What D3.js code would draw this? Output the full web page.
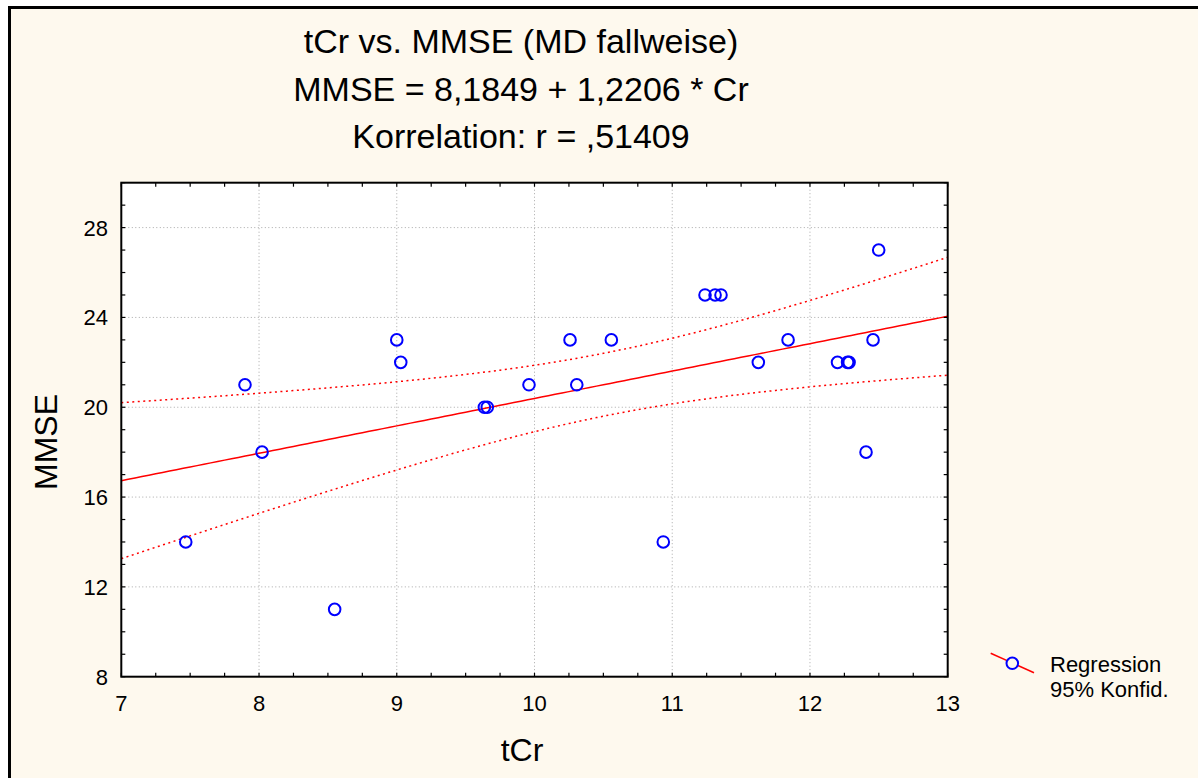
<!DOCTYPE html>
<html>
<head>
<meta charset="utf-8">
<script src="https://cdn.jsdelivr.net/npm/d3@7"></script>
<style>
  html, body { margin: 0; padding: 0; background: #ffffff; }
  svg { display: block; font-family: "Liberation Sans", Arial, Helvetica, sans-serif; }
</style>
</head>
<body>
<svg id="chart" width="1198" height="778"></svg>
<script>
// tCr values (x) and matching MMSE scores (y)
const tCr = [7.468, 7.898, 8.022, 8.549, 9.000, 9.029, 9.636, 9.657, 9.960, 10.258,
             10.307, 10.558, 10.935, 11.238, 11.311, 11.354, 11.625, 11.841, 12.200,
             12.273, 12.284, 12.407, 12.458, 12.499];
const mmse = [14, 21, 18, 11, 23, 22, 20, 20, 21, 23,
              21, 23, 14, 25, 25, 25, 22, 23, 22,
              22, 22, 18, 23, 27];

// fitted line MMSE = a + b * Cr
const intercept = 8.1849;
const slope = 1.2206;
const tCrit = 2.074; // t(0.975, n - 2)

const xTicks = [7, 8, 9, 10, 11, 12, 13];
const yTicks = [8, 12, 16, 20, 24, 28];
const titleLines = ["tCr vs. MMSE (MD fallweise)",
                    "MMSE = 8,1849 + 1,2206 * Cr",
                    "Korrelation: r = ,51409"];
const legendLabels = ["Regression", "95% Konfid."];

const svg = d3.select("#chart");
const W = 1198, H = 778;
const plot = { left: 121.3, right: 947.7, top: 182.7, bottom: 676.7 };

// page background and frame
svg.append("rect").attr("x", 9).attr("y", 7).attr("width", W - 9).attr("height", H - 7)
  .attr("fill", "#fef9ee");
svg.append("path").attr("d", `M9.5,${H} V7.5 H${W}`)
  .attr("fill", "none").attr("stroke", "#000").attr("stroke-width", 3);

const x = d3.scaleLinear().domain([7, 13]).range([plot.left, plot.right]);
const y = d3.scaleLinear().domain([8, 30]).range([plot.bottom, plot.top]);

// plot area
svg.append("rect").attr("x", plot.left).attr("y", plot.top)
  .attr("width", plot.right - plot.left).attr("height", plot.bottom - plot.top)
  .attr("fill", "#ffffff");

svg.append("clipPath").attr("id", "plotClip").append("rect")
  .attr("x", plot.left).attr("y", plot.top)
  .attr("width", plot.right - plot.left).attr("height", plot.bottom - plot.top);

// dotted grid
const grid = svg.append("g").attr("stroke", "#a8a8a8").attr("stroke-width", 1)
  .attr("stroke-dasharray", "1,2.5");
grid.selectAll("line.gx").data(xTicks.slice(1, -1)).join("line")
  .attr("x1", d => x(d)).attr("x2", d => x(d))
  .attr("y1", plot.top).attr("y2", plot.bottom);
grid.selectAll("line.gy").data(yTicks.slice(1)).join("line")
  .attr("y1", d => y(d)).attr("y2", d => y(d))
  .attr("x1", plot.left).attr("x2", plot.right);

// regression line and 95% confidence band
const n = tCr.length;
const meanX = d3.mean(tCr);
const sxx = d3.sum(tCr, v => (v - meanX) ** 2);
const sse = d3.sum(tCr, (v, i) => (mmse[i] - (intercept + slope * v)) ** 2);
const s = Math.sqrt(sse / (n - 2));
const halfWidth = v => tCrit * s * Math.sqrt(1 / n + (v - meanX) ** 2 / sxx);
const xs = d3.range(7, 13.0001, 0.05);

const fitG = svg.append("g").attr("clip-path", "url(#plotClip)");
const lineGen = fn => d3.line().x(v => x(v)).y(v => y(fn(v)));
fitG.append("path").datum(xs)
  .attr("d", lineGen(v => intercept + slope * v))
  .attr("fill", "none").attr("stroke", "#ff0000").attr("stroke-width", 1.5);
[1, -1].forEach(sign => {
  fitG.append("path").datum(xs)
    .attr("d", lineGen(v => intercept + slope * v + sign * halfWidth(v)))
    .attr("fill", "none").attr("stroke", "#ff0000").attr("stroke-width", 1.5)
    .attr("stroke-dasharray", "2,3.5");
});

// data points
svg.append("g").selectAll("circle").data(tCr).join("circle")
  .attr("cx", d => x(d)).attr("cy", (d, i) => y(mmse[i]))
  .attr("r", 5.8).attr("fill", "none").attr("stroke", "#0000ff").attr("stroke-width", 2);

// inward ticks on all four sides
const xMinor = d3.range(7, 13.001, 0.25);
const yMinor = d3.range(8, 30.001, 1);
const tickG = svg.append("g").attr("stroke", "#000").attr("stroke-width", 1.2);
const tl = 4;
tickG.selectAll("line.xb").data(xMinor).join("line")
  .attr("x1", d => x(d)).attr("x2", d => x(d))
  .attr("y1", plot.bottom).attr("y2", plot.bottom - tl);
tickG.selectAll("line.xt").data(xMinor).join("line")
  .attr("x1", d => x(d)).attr("x2", d => x(d))
  .attr("y1", plot.top).attr("y2", plot.top + tl);
tickG.selectAll("line.yl").data(yMinor).join("line")
  .attr("y1", d => y(d)).attr("y2", d => y(d))
  .attr("x1", plot.left).attr("x2", plot.left + tl);
tickG.selectAll("line.yr").data(yMinor).join("line")
  .attr("y1", d => y(d)).attr("y2", d => y(d))
  .attr("x1", plot.right).attr("x2", plot.right - tl);

// plot border
svg.append("rect").attr("x", plot.left).attr("y", plot.top)
  .attr("width", plot.right - plot.left).attr("height", plot.bottom - plot.top)
  .attr("fill", "none").attr("stroke", "#000").attr("stroke-width", 2);

// tick labels
svg.append("g").selectAll("text").data(xTicks).join("text")
  .attr("x", d => x(d)).attr("y", 711)
  .attr("text-anchor", "middle").attr("font-size", 22).attr("fill", "#000")
  .text(d => d);
svg.append("g").selectAll("text").data(yTicks).join("text")
  .attr("x", 108).attr("y", d => y(d) + 8)
  .attr("text-anchor", "end").attr("font-size", 22).attr("fill", "#000")
  .text(d => d);

// axis titles
svg.append("text").attr("x", 522).attr("y", 761)
  .attr("text-anchor", "middle").attr("font-size", 32).text("tCr");
svg.append("text").attr("transform", "translate(57,442) rotate(-90)")
  .attr("text-anchor", "middle").attr("font-size", 32).text("MMSE");

// title block
svg.append("g").selectAll("text").data(titleLines).join("text")
  .attr("x", 521).attr("y", (d, i) => 53 + i * 47.5)
  .attr("text-anchor", "middle").attr("font-size", 34).attr("fill", "#000")
  .text(d => d);

// legend
const lg = svg.append("g");
lg.append("line").attr("x1", 990.7).attr("y1", 653.3).attr("x2", 1034).attr("y2", 672.7)
  .attr("stroke", "#ff0000").attr("stroke-width", 1.5);
lg.append("circle").attr("cx", 1012.3).attr("cy", 663.3).attr("r", 5.8)
  .attr("fill", "#fef9ee").attr("stroke", "#0000ff").attr("stroke-width", 2);
lg.selectAll("text").data(legendLabels).join("text")
  .attr("x", 1050).attr("y", (d, i) => 672 + i * 25)
  .attr("font-size", 22).attr("fill", "#000")
  .text(d => d);
</script>
</body>
</html>
